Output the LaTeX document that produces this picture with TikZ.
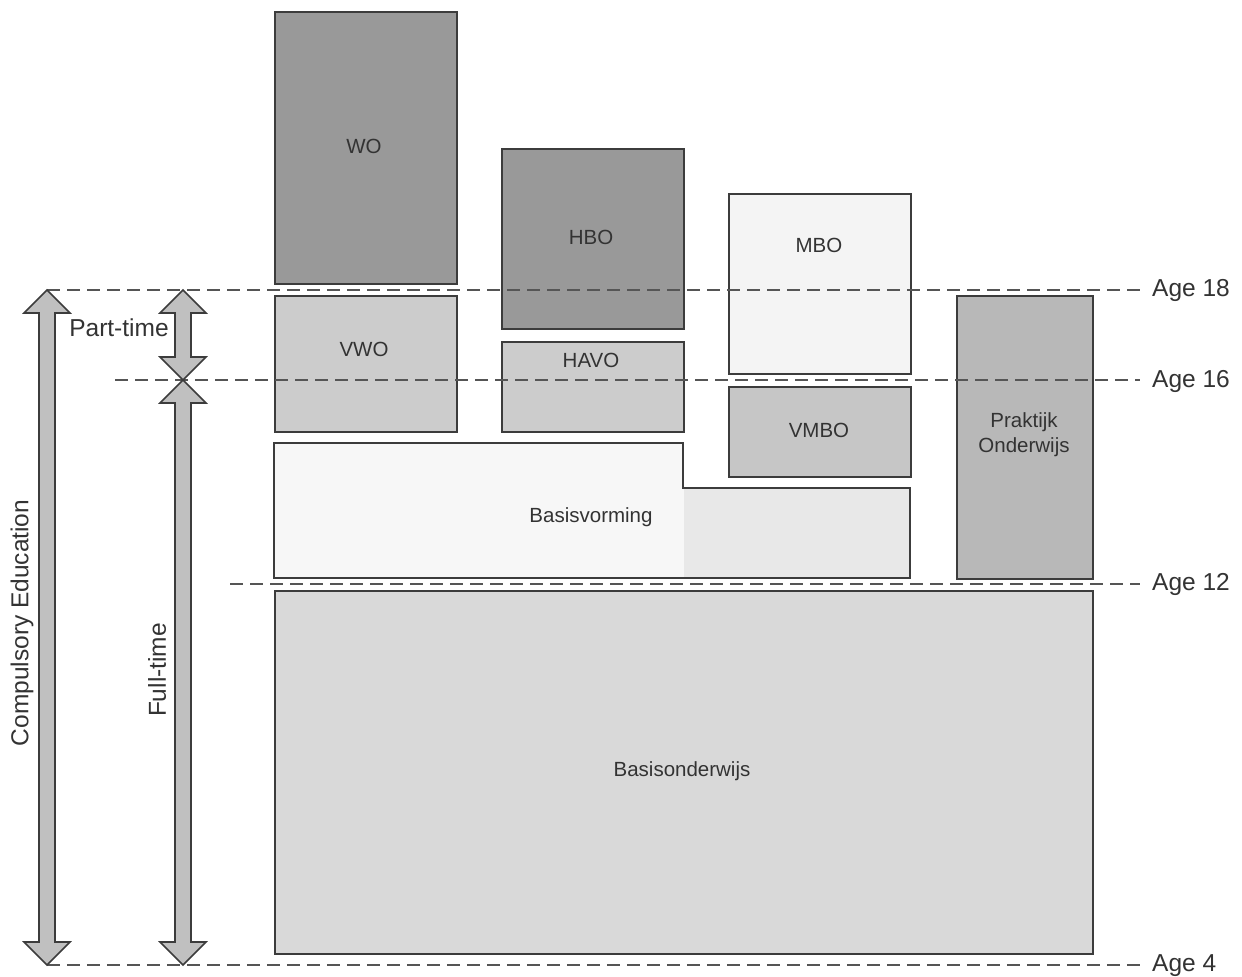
\documentclass[tikz,border=0pt]{standalone}
\usepackage{fontspec}
\setmainfont{Liberation Sans}
\begin{document}
\begin{tikzpicture}[x=1pt,y=-1pt,
  box/.style={draw=boxline,line width=1.8pt},
  lbl/.style={text=labeltext,font=\fontsize{20.5}{24}\selectfont,inner sep=0pt,align=center},
  axis/.style={text=labeltext,font=\fontsize{24.5}{28}\selectfont,inner sep=0pt},
  agerule/.style={draw=ruleline,line width=1.6pt,dash pattern=on 13pt off 7pt},
  arrowbody/.style={draw=boxline,fill=arrowgray,line width=1.6pt,line join=miter}]
\definecolor{boxline}{HTML}{3C3C3C}
\definecolor{labeltext}{HTML}{333333}
\definecolor{ruleline}{HTML}{555555}
\definecolor{arrowgray}{HTML}{C0C0C0}
\definecolor{darkfill}{HTML}{999999}
\definecolor{midfill}{HTML}{CCCCCC}
\definecolor{vmbofill}{HTML}{C6C6C6}
\definecolor{praktfill}{HTML}{B8B8B8}
\definecolor{lightfill}{HTML}{F4F4F4}
\definecolor{basisleft}{HTML}{F7F7F7}
\definecolor{basisright}{HTML}{E8E8E8}
\definecolor{primfill}{HTML}{D9D9D9}
\useasboundingbox[fill=white] (0,0) rectangle (1242,977);

% double-headed block arrow between two tips
\newcommand{\blockarrow}[3]{%
  \path[arrowbody] (#1,#2) -- ++(23,23) -- ++(-15,0) -- (#1+8,#3-23) -- ++(15,0)
    -- (#1,#3) -- ++(-23,-23) -- ++(15,0) -- (#1-8,#2+23) -- ++(-15,0) -- cycle;}

% boxes
\node[box,fill=darkfill,minimum width=182pt,minimum height=272pt,inner sep=0pt,anchor=north west] (wo) at (274,11) {};
\node[box,fill=darkfill,minimum width=182pt,minimum height=180pt,inner sep=0pt,anchor=north west] (hbo) at (501,148) {};
\node[box,fill=lightfill,minimum width=182pt,minimum height=180pt,inner sep=0pt,anchor=north west] (mbo) at (728,193) {};
\node[box,fill=midfill,minimum width=182pt,minimum height=136pt,inner sep=0pt,anchor=north west] (vwo) at (274,295) {};
\node[box,fill=midfill,minimum width=182pt,minimum height=90pt,inner sep=0pt,anchor=north west] (havo) at (501,341) {};
\node[box,fill=vmbofill,minimum width=182pt,minimum height=90pt,inner sep=0pt,anchor=north west] (vmbo) at (728,386) {};
\node[box,fill=praktfill,minimum width=136pt,minimum height=283pt,inner sep=0pt,anchor=north west] (prakt) at (956,295) {};
\node[box,fill=primfill,minimum width=818pt,minimum height=363pt,inner sep=0pt,anchor=north west] (prim) at (274,590) {};

% Basisvorming: stepped outline with two fills
\fill[basisleft] (274,443) rectangle (684,578);
\fill[basisright] (684,488) rectangle (910,578);
\draw[box,line join=miter] (274,443) -- (683,443) -- (683,488) -- (910,488) -- (910,578) -- (274,578) -- cycle;

% box labels
\node[lbl] (two) at (364,146) {WO};
\node[lbl] (thbo) at (591,237) {HBO};
\node[lbl] (tmbo) at (819,245) {MBO};
\node[lbl] (tvwo) at (364,349) {VWO};
\node[lbl] (thavo) at (591,360) {HAVO};
\node[lbl] (tvmbo) at (819,430) {VMBO};
\node[lbl] (tprakt) at (1024,435) {Praktijk\\[1pt]Onderwijs};
\node[lbl] (tbasisv) at (591,517) {Basisvorming};
\node[lbl] (tprim) at (682,771) {Basisonderwijs};

% age rules
\coordinate (a18l) at (47,290);  \coordinate (a18r) at (1140,290);
\coordinate (a16l) at (115,380); \coordinate (a16r) at (1140,380);
\coordinate (a12l) at (230,584); \coordinate (a12r) at (1140,584);
\coordinate (a4l) at (47,965);   \coordinate (a4r) at (1140,965);
\draw[agerule] (a18l) -- (a18r);
\draw[agerule] (a16l) -- (a16r);
\draw[agerule] (a12l) -- (a12r);
\draw[agerule] (a4l) -- (a4r);
\node[axis,anchor=west] (age18) at (1152,290) {Age 18};
\node[axis,anchor=west] (age16) at (1152,381) {Age 16};
\node[axis,anchor=west] (age12) at (1152,584) {Age 12};
\node[axis,anchor=west] (age4) at (1152,966) {Age 4};

% span arrows
\blockarrow{47}{290}{965}
\blockarrow{183}{290}{380}
\blockarrow{183}{380}{965}
\node[axis,rotate=90] (compulsory) at (22,623) {Compulsory Education};
\node[axis,rotate=90] (fulltime) at (157,670) {Full-time};
\node[axis] (parttime) at (119,328) {Part-time};
\end{tikzpicture}
\end{document}
